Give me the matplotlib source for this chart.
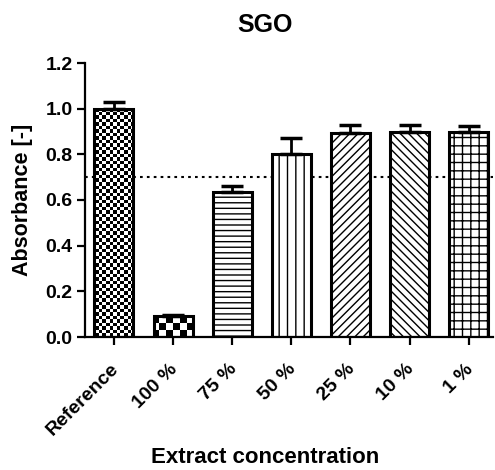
import numpy as np
import matplotlib
matplotlib.use('Agg')
import matplotlib.pyplot as plt
import matplotlib.transforms as mtransforms

plt.rcParams['font.family'] = ['Liberation Sans', 'DejaVu Sans']
plt.rcParams['font.weight'] = 'bold'
plt.rcParams['hatch.linewidth'] = 1.0

categories = ['Reference', '100 %', '75 %', '50 %', '25 %', '10 %', '1 %']
absorbance = [1.0, 0.092, 0.634, 0.800, 0.892, 0.899, 0.896]
err_upper = [0.028, 0.005, 0.029, 0.070, 0.037, 0.030, 0.028]
threshold = 0.70
hatches = [None, None, '---', '||', '////', '\\\\\\\\', '++']
checker_cells = {0: (116, 78), 1: (61, 41)}

fig = plt.figure(figsize=(4.95, 4.7), dpi=100)
ax = fig.add_axes([85 / 495, 1 - 337 / 470, 408 / 495, 274 / 470])

x = np.arange(len(categories))
ax.axhline(threshold, color='black', lw=1.5, ls=(0, (1.3, 2)), zorder=0)

bars = ax.bar(x, absorbance, width=0.66, facecolor='white', edgecolor='black',
              linewidth=2.2, zorder=2)
for i, b in enumerate(bars):
    if hatches[i]:
        b.set_hatch(hatches[i])
    if i in checker_cells:
        # checkerboard fill, clipped to the bar
        b.set_facecolor('none')
        nx, ny = checker_cells[i]
        board = (np.add.outer(np.arange(ny), np.arange(nx)) % 2).astype(float)
        im = ax.imshow(board, cmap='gray', interpolation='nearest', aspect='auto',
                       extent=(0, 1, 0, 1), transform=ax.transAxes, zorder=1)
        im.set_clip_path(b)

ax.errorbar(x, absorbance, yerr=[[0] * len(x), err_upper], fmt='none',
            ecolor='black', elinewidth=2, capsize=8, capthick=2.5, zorder=3)

ax.set_xlim(-0.49, 6.41)
ax.set_ylim(0, 1.2)
ax.set_yticks(np.arange(0, 1.21, 0.2))
ax.set_yticklabels(['%.1f' % v for v in np.arange(0, 1.21, 0.2)])
ax.set_xticks(x)
ax.set_xticklabels(categories, rotation=45, ha='right', va='top', rotation_mode='anchor')

for s in ['top', 'right']:
    ax.spines[s].set_visible(False)
for s in ['left', 'bottom']:
    ax.spines[s].set_linewidth(1.6)
ax.tick_params(width=1.6, length=6, labelsize=14, direction='out', pad=3)
ax.tick_params(axis='x', pad=11)
shift = mtransforms.ScaledTranslation(-0.04, 0, fig.dpi_scale_trans)
for lbl in ax.get_xticklabels():
    lbl.set_transform(lbl.get_transform() + shift)

ax.set_ylabel('Absorbance [-]', size=15.5, fontweight='bold', labelpad=9)
fig.text(265 / 495, 1 - 463 / 470, 'Extract concentration', size=16,
         fontweight='bold', ha='center', va='baseline')
fig.text(265 / 495, 1 - 32 / 470, 'SGO', size=18, fontweight='bold',
         ha='center', va='baseline')

fig.savefig('out.png', dpi=100)
